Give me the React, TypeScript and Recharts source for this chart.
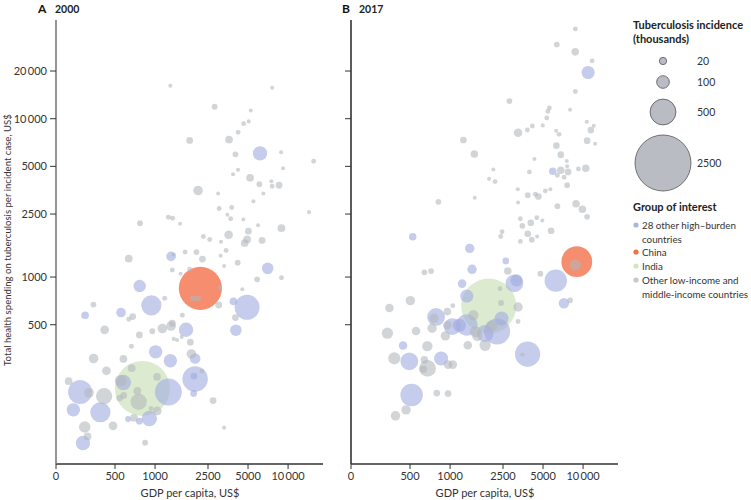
import { ScatterChart, Scatter, XAxis, YAxis, ZAxis } from 'recharts';

// [gdp per capita US$, health spending per incident case US$, incidence (thousands)]
const otherA = [
  [1303, 16140, 1], [7586, 15680, 1], [2805, 11900, 17], [5236, 11280, 1], [4634, 9306, 8],
  [5058, 9616, 1], [4207, 8199, 8], [1820, 7295, 28], [3597, 7379, 40], [4018, 5957, 17],
  [8855, 6131, 1], [15570, 5383, 8], [9165, 4863, 1], [4207, 4752, 1], [3857, 4457, 1],
  [5179, 4230, 40], [6085, 3855, 17], [7486, 4027, 1], [7586, 3744, 8], [8555, 3800, 28],
  [2105, 3519, 70], [2977, 3368, 1], [6522, 3368, 1], [5483, 3013, 1], [3030, 2710, 8],
  [3767, 2750, 8], [14380, 2570, 1], [1259, 2388, 8], [1356, 2353, 8], [3496, 2472, 1],
  [3700, 2333, 8], [4613, 2310, 1], [771, 2188, 17], [1542, 2170, 1], [5945, 2127, 1],
  [5032, 1950, 28], [8913, 2036, 40], [2307, 1805, 8], [2575, 1728, 8], [3574, 1850, 55],
  [3133, 1671, 1], [4920, 1728, 40], [4720, 1638, 40], [6377, 1703, 28], [3420, 1473, 8],
  [1682, 1438, 8], [2045, 1438, 17], [1380, 1390, 1], [2270, 1298, 28], [3112, 1364, 1],
  [4178, 1233, 17], [634, 1306, 40], [3304, 1173, 1], [1349, 1107, 8], [1820, 1119, 8],
  [1557, 1050, 1], [3062, 858, 1], [1931, 734, 17], [2105, 734, 17], [5848, 967, 17],
  [8913, 991, 8], [4529, 837, 1], [1181, 734, 8], [344, 670, 17], [679, 563, 28],
  [634, 541, 8], [1604, 574, 8], [3008, 666, 28], [4018, 555, 28], [418, 464, 55],
  [762, 431, 28], [954, 455, 17], [1135, 473, 70], [1319, 491, 70], [1349, 511, 28],
  [1380, 407, 1], [1463, 401, 1], [1585, 419, 1], [1842, 388, 28], [664, 366, 8],
  [345, 306, 70], [578, 304, 40], [1875, 327, 70], [431, 256, 55], [667, 266, 40],
  [2255, 254, 8], [224, 220, 40], [551, 222, 107], [1035, 234, 40], [319, 186, 70],
  [414, 177, 227], [736, 191, 40], [581, 179, 28], [542, 172, 28], [753, 163, 227],
  [1040, 143, 55], [933, 148, 8], [2729, 166, 28], [695, 129, 40], [296, 113, 107],
  [483, 115, 55], [3304, 112, 1], [311, 98.6, 40], [841, 90, 17],
];

const highBurdenA = [
  [6152, 6043, 174], [1319, 1350, 70], [7025, 1135, 107], [766, 877, 128], [938, 663, 354],
  [298, 574, 40], [555, 597, 70], [3879, 703, 40], [4920, 644, 549], [4052, 462, 107],
  [1710, 465, 174], [1010, 337, 150], [1303, 296, 150], [2000, 306, 88], [2000, 227, 575],
  [1958, 237, 28], [1950, 184, 28], [578, 216, 200], [273, 188, 506], [1259, 188, 638],
  [243, 145, 150], [388, 140, 354], [906, 128, 200], [627, 127, 17], [762, 123, 28],
  [287, 89.5, 174],
];

const chinaA = [[2191, 849, 1669]];
const indiaA = [[803, 198, 2724]];

const otherB = [
  [8750, 36900, 8], [6345, 29380, 17], [8730, 26430, 40], [11690, 23190, 8], [8750, 14860, 8],
  [2792, 12930, 17], [7984, 11400, 1], [5580, 11680, 8], [5430, 11120, 8], [5333, 10100, 8],
  [10660, 9575, 1], [12030, 9031, 1], [11430, 8485, 28], [4156, 8995, 8], [3813, 8485, 8],
  [4977, 9073, 1], [3245, 8163, 55], [6266, 8400, 1], [6600, 7962, 8], [1259, 7340, 28],
  [10720, 7266, 28], [12310, 6956, 1], [6296, 6761, 28], [1523, 5992, 40], [6797, 5931, 28],
  [4305, 5570, 1], [7541, 5410, 1], [7590, 5003, 1], [2117, 4771, 1], [3948, 4615, 8],
  [6797, 4723, 40], [7714, 4615, 28], [6412, 4393, 8], [7197, 4266, 8], [9220, 4819, 8],
  [10480, 4861, 40], [1965, 4169, 1], [2179, 4008, 8], [7590, 3800, 17], [3229, 3586, 1],
  [3838, 3286, 17], [4613, 3225, 28], [4377, 3335, 8], [5207, 3502, 8], [5677, 3586, 1],
  [817, 2986, 17], [1533, 3164, 1], [3245, 2955, 1], [6412, 2802, 17], [8855, 2902, 40],
  [9880, 2682, 40], [10720, 2402, 17], [3378, 2333, 8], [4485, 2368, 8], [4940, 2277, 1],
  [3496, 2108, 17], [4043, 2202, 28], [2460, 1932, 8], [2404, 1805, 8], [3838, 1877, 28],
  [4509, 1805, 1], [5747, 1960, 28], [3378, 1679, 8], [4115, 1721, 17], [8730, 1190, 107],
  [641, 1071, 17], [720, 1091, 17], [2716, 1091, 40], [4775, 1050, 17], [2377, 845, 8],
  [503, 710, 70], [350, 638, 55], [7984, 713, 17], [1048, 660, 8], [2418, 686, 17],
  [3245, 647, 70], [758, 549, 70], [954, 605, 40], [1497, 574, 88], [1550, 453, 107],
  [2060, 491, 107], [3245, 524, 8], [338, 442, 107], [555, 457, 55], [732, 475, 70],
  [954, 496, 55], [922, 425, 70], [1604, 425, 88], [1833, 371, 107], [1359, 371, 55],
  [675, 366, 88], [3496, 324, 1], [381, 307, 128], [641, 300, 40], [677, 265, 256],
  [630, 262, 40], [966, 280, 55], [1048, 280, 55], [794, 185, 28], [966, 184, 28],
  [467, 145, 70], [389, 133, 70],
];

const highBurdenB = [
  [10910, 19580, 150], [5919, 4656, 40], [524, 1797, 40], [1406, 1517, 70], [2624, 1265, 28],
  [1463, 1119, 70], [6232, 949, 466], [3044, 913, 287], [3162, 953, 128], [1231, 909, 55],
  [1336, 759, 150], [7173, 683, 88], [785, 560, 287], [1336, 498, 427], [1040, 487, 256],
  [1175, 496, 150], [2438, 548, 174], [2256, 453, 638], [1833, 440, 256], [443, 370, 55],
  [3828, 326, 593], [494, 294, 287], [856, 306, 174], [514, 180, 466],
];

const chinaB = [[8970, 1250, 892]];
const indiaB = [[1954, 656, 2879]];

const xTicks = [180, 500, 1000, 2500, 5000, 10000];
const yTicks = [500, 1000, 2500, 5000, 10000, 20000];
const legendSizes = [20, 100, 500, 2500];
const groupLabels = [
  ['28 other high–burden', 'countries'],
  ['China'],
  ['India'],
  ['Other low-income and', 'middle-income countries'],
];

const FONT = 'Lato, "Noto Sans", sans-serif';
const COLORS = {
  high: 'rgba(160,170,224,0.6)',
  china: 'rgba(242,112,74,0.8)',
  india: 'rgba(198,222,178,0.62)',
  other: 'rgba(178,182,188,0.58)',
};
const groupColors = ['#adb5df', '#f26f4a', '#d3e5c3', '#c5c8cc'];

const Z_DOMAIN = [0, 2500];
const Z_RANGE = [12, 2376];

const toPoints = (rows: number[][]) => rows.map(([gdp, spend, z]) => ({ gdp, spend, z }));

const fmt = (v: number) => {
  if (v === xTicks[0]) return '0';
  if (v >= 10000) return `${Math.floor(v / 1000)}\u2009000`;
  return String(v);
};

// radius matching the ZAxis area mapping
const legendRadius = (z: number) => {
  const area = Z_RANGE[0] + ((Z_RANGE[1] - Z_RANGE[0]) * z) / Z_DOMAIN[1];
  return Math.sqrt(area / Math.PI) + 0.5;
};

function Panel({ left, other, high, china, india, yLabels, yAxisColor }: any) {
  return (
    <div style={{ position: 'absolute', left, top: 0 }}>
      <ScatterChart width={335} height={500} margin={{ top: 20, right: 12, bottom: 0, left: 0 }}>
        <XAxis
          type="number"
          dataKey="gdp"
          scale="log"
          domain={[180, 18300]}
          allowDataOverflow
          ticks={xTicks}
          interval={0}
          tickFormatter={fmt}
          height={36}
          tickSize={5}
          tickMargin={3}
          stroke="#333"
          axisLine={{ stroke: '#333', strokeWidth: 1.3 }}
          tick={{ fontSize: 11, fill: '#333', fontFamily: FONT }}
        />
        <YAxis
          type="number"
          dataKey="spend"
          scale="log"
          domain={[66, 42000]}
          allowDataOverflow
          ticks={yTicks}
          interval={0}
          tickFormatter={yLabels ? fmt : () => ''}
          width={56}
          tickSize={6}
          tickMargin={3}
          stroke="#333"
          axisLine={{ stroke: yAxisColor, strokeWidth: 1.6 }}
          tick={{ fontSize: 11, fill: '#333', fontFamily: FONT }}
        />
        <ZAxis type="number" dataKey="z" domain={Z_DOMAIN} range={Z_RANGE} />
        <Scatter data={toPoints(india)} fill={COLORS.india} isAnimationActive={false} />
        <Scatter data={toPoints(china)} fill={COLORS.china} isAnimationActive={false} />
        <Scatter data={toPoints(high)} fill={COLORS.high} isAnimationActive={false} />
        <Scatter data={toPoints(other)} fill={COLORS.other} isAnimationActive={false} />
      </ScatterChart>
    </div>
  );
}

export default function App() {
  const sizeY = [61, 82, 112, 163];
  const groupY = [225, 252, 266, 280];
  return (
    <div style={{ position: 'absolute', left: 0, top: 0, width: 751, height: 500, background: '#fff' }}>
      <Panel left={0} other={otherA} high={highBurdenA} china={chinaA} india={indiaA} yLabels yAxisColor="#7a7a7a" />
      <Panel left={295} other={otherB} high={highBurdenB} china={chinaB} india={indiaB} yLabels={false} yAxisColor="#333" />

      <svg width={751} height={500} style={{ position: 'absolute', left: 0, top: 0, pointerEvents: 'none' }} fontFamily={FONT}>
        {/* panel titles */}
        <text x={38} y={13} fontSize={12} fontWeight={700} fill="#111">A</text>
        <text x={55} y={13} fontSize={10.5} fontWeight={700} fill="#222">2000</text>
        <text x={342} y={13} fontSize={12} fontWeight={700} fill="#111">B</text>
        <text x={359} y={13} fontSize={10.5} fontWeight={700} fill="#222">2017</text>

        {/* axis titles */}
        <text
          x={7}
          y={240}
          fontSize={9.6}
          fill="#333"
          textAnchor="middle"
          dominantBaseline="central"
          transform="rotate(-90 7 240)"
        >
          Total health spending on tuberculosis per incident case, US$
        </text>
        <text x={190} y={497} fontSize={11} fill="#333" textAnchor="middle">GDP per capita, US$</text>
        <text x={485} y={497} fontSize={11} fill="#333" textAnchor="middle">GDP per capita, US$</text>

        {/* size legend */}
        <text x={633} y={29} fontSize={11} fontWeight={700} fill="#222">Tuberculosis incidence</text>
        <text x={633} y={43} fontSize={11} fontWeight={700} fill="#222">(thousands)</text>
        {legendSizes.map((s, i) => (
          <g key={s}>
            <circle cx={663} cy={sizeY[i]} r={legendRadius(s)} fill="#b9bdc3" stroke="#555" strokeWidth={0.8} />
            <text x={697} y={sizeY[i] + 4} fontSize={10.5} fill="#333">{s}</text>
          </g>
        ))}

        {/* group legend */}
        <text x={633} y={211} fontSize={11} fontWeight={700} fill="#222">Group of interest</text>
        {groupLabels.map((lines, i) => (
          <g key={i}>
            <circle cx={636} cy={groupY[i]} r={2.6} fill={groupColors[i]} />
            {lines.map((line, j) => (
              <text key={j} x={642} y={groupY[i] + 4 + j * 13.5} fontSize={9.8} fill="#333">{line}</text>
            ))}
          </g>
        ))}
      </svg>
    </div>
  );
}
